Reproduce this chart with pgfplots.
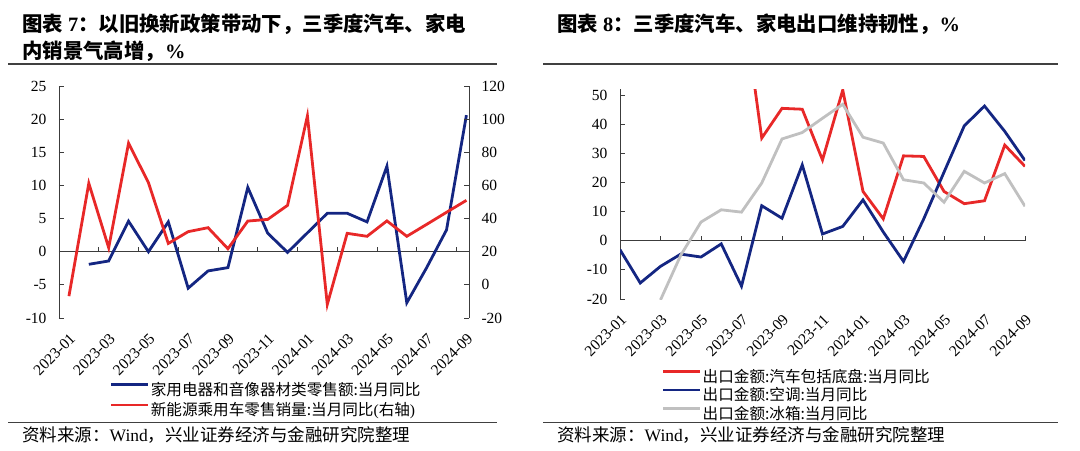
\documentclass[border=0pt]{standalone}
\usepackage{fontspec}
\setmainfont{Liberation Serif}
\newfontfamily\cjk{Noto Sans CJK SC}
\usepackage{pgfplots}
\pgfplotsset{compat=1.18}
\definecolor{cblue}{RGB}{20,38,130}
\definecolor{cred}{RGB}{232,40,40}
\definecolor{cgray}{RGB}{192,192,192}
\definecolor{axc}{RGB}{60,60,60}
\pgfplotsset{
  base/.style={
    scale only axis, anchor=south west,
    tick label style={font=\fontsize{15.5bp}{18bp}\selectfont},
    axis line style={draw=axc, line width=0.8bp, -},
    every tick/.style={draw=axc, line width=0.8bp},
    major tick length=5bp,
    ytick align=inside,
    yticklabel shift=9bp,
  },
  lg/.style={
    legend style={draw=none, fill=none, inner sep=0pt,
      font=\fontsize{15.6bp}{18bp}\selectfont,
      nodes={inner sep=1bp}},
    legend cell align=left,
    legend image code/.code={\draw[##1] (0bp,5bp) -- (37bp,5bp);},
  },
}
\begin{document}
\begin{tikzpicture}
\useasboundingbox (0,0) rectangle (1080bp,-451bp);
% ---------- titles and rules ----------
\node[anchor=west, inner sep=0pt, font=\fontsize{20.4bp}{24bp}\selectfont\bfseries] at (22bp,-24bp)
  {{\cjk 图表} 7{\cjk ：以旧换新政策带动下，三季度汽车、家电}};
\node[anchor=west, inner sep=0pt, font=\fontsize{20.4bp}{24bp}\selectfont\bfseries] at (22bp,-51bp)
  {{\cjk 内销景气高增，}\%};
\node[anchor=west, inner sep=0pt, font=\fontsize{20.4bp}{24bp}\selectfont\bfseries] at (557bp,-24bp)
  {{\cjk 图表} 8{\cjk ：三季度汽车、家电出口维持韧性，}\%};
\draw[line width=1.2bp, color=black!75] (8bp,-64bp) -- (497bp,-64bp);
\draw[line width=1.2bp, color=black!75] (543bp,-64bp) -- (1058bp,-64bp);
\draw[line width=1.2bp, color=black!75] (8bp,-422.5bp) -- (497bp,-422.5bp);
\draw[line width=1.2bp, color=black!75] (543bp,-422.5bp) -- (1058bp,-422.5bp);
\node[anchor=west, inner sep=0pt, font=\fontsize{17.5bp}{20bp}\selectfont] at (22bp,-435bp)
  {{\cjk 资料来源：}Wind{\cjk ，兴业证券经济与金融研究院整理}};
\node[anchor=west, inner sep=0pt, font=\fontsize{17.5bp}{20bp}\selectfont] at (557bp,-435bp)
  {{\cjk 资料来源：}Wind{\cjk ，兴业证券经济与金融研究院整理}};

% ---------- left chart: left axis + blue ----------
\begin{axis}[base, at={(59bp,-318bp)}, width=410bp, height=232bp,
  xmin=-0.5, xmax=20.13, ymin=-10, ymax=25,
  axis y line*=left, axis x line*=middle,
  ytick={-10,-5,0,5,10,15,20,25}, yticklabels={-10,-5,0,5,10,15,20,25},
  xtick={1.5,3.5,...,19.5}, xticklabels={,,,,,,,,,,,,}, xtick align=inside, major tick length=4.5bp]
\addplot[cblue, line width=2.8bp] coordinates {
 (1,-1.9) (2,-1.4) (3,4.6) (4,0.0) (5,4.5) (6,-5.5) (7,-2.9) (8,-2.4) (9,9.7)
 (10,2.8) (11,-0.1) (13,5.8) (14,5.8) (15,4.5) (16,12.9) (17,-7.7) (18,-2.4)
 (19,3.3) (20,20.6)};
\end{axis}
% ---------- left chart: right axis + red + labels ----------
\begin{axis}[base, lg, at={(59bp,-318bp)}, width=410bp, height=232bp,
  xmin=-0.5, xmax=20.13, ymin=-20, ymax=120,
  axis y line*=right, axis x line*=bottom, x axis line style={draw=none},
  ytick={-20,0,20,40,60,80,100,120}, yticklabels={-20,0,20,40,60,80,100,120},
  xtick={0,2,...,20},
  xticklabels={2023-01,2023-03,2023-05,2023-07,2023-09,2023-11,2024-01,2024-03,2024-05,2024-07,2024-09},
  xtick style={draw=none},
  xticklabel style={rotate=45, anchor=north east, inner sep=0pt},
  xticklabel shift=14bp,
  legend style={at={(0.124,-0.27)}, anchor=north west, row sep=4bp}]
\addlegendimage{cblue, line width=2.8bp}
\addlegendentry{\cjk 家用电器和音像器材类零售额:当月同比}
\addplot[cred, line width=2.8bp] coordinates {
 (0,-6.8) (1,61.3) (2,22.4) (3,85.5) (4,61.7) (5,25.0) (6,32.1) (7,34.5) (8,21.8)
 (9,38.5) (10,39.5) (11,48.0) (12,102.0) (13,-11.8) (14,31.1) (15,29.3) (16,38.6)
 (17,29.3) (18,36.5) (19,43.8) (20,51.0)};
\addlegendentry{{\cjk 新能源乘用车零售销量:当月同比}({\cjk 右轴})}
\end{axis}

% ---------- right chart: axes ----------
\begin{axis}[base, at={(620bp,-299bp)}, width=405bp, height=209.9bp,
  xmin=0, xmax=20, ymin=-20, ymax=52,
  axis y line*=left, axis x line*=middle,
  ytick={-20,-10,0,10,20,30,40,50}, yticklabels={-20,-10,0,10,20,30,40,50},
  xtick={0,2,...,20}, xticklabels={,,,,,,,,,,,,}, xtick align=inside, major tick length=4.5bp]
\end{axis}
% ---------- right chart: series + labels ----------
\begin{axis}[base, lg, at={(620bp,-299bp)}, width=405bp, height=209.9bp,
  xmin=0, xmax=20, ymin=-20, ymax=52,
  axis y line=none, axis x line*=bottom, x axis line style={draw=none},
  xtick={0,2,...,20},
  xticklabels={2023-01,2023-03,2023-05,2023-07,2023-09,2023-11,2024-01,2024-03,2024-05,2024-07,2024-09},
  xtick style={draw=none},
  xticklabel style={rotate=45, anchor=north east, inner sep=0pt},
  xticklabel shift=14bp,
  legend style={at={(0.103,-0.33)}, anchor=north west, row sep=1.5bp}]
\addplot[cred, line width=2.8bp] coordinates {
 (6,86) (7,35.2) (8,45.4) (9,45.1) (10,27.7) (11,51.7) (12,16.9) (13,7.5) (14,29.1)
 (15,28.9) (16,16.9) (17,12.7) (18,13.7) (19,32.8) (20,25.5)};
\addlegendentry{\cjk 出口金额:汽车包括底盘:当月同比}
\addplot[cblue, line width=2.8bp] coordinates {
 (0,-3.1) (1,-14.5) (2,-8.8) (3,-4.6) (4,-5.6) (5,-1.1) (6,-15.6) (7,12.0) (8,7.7)
 (9,26.0) (10,2.3) (11,4.9) (12,14.0) (13,3.0) (14,-7.1) (15,7.5) (16,23.5) (17,39.4)
 (18,46.2) (19,37.5) (20,27.5)};
\addlegendentry{\cjk 出口金额:空调:当月同比}
\addplot[cgray, line width=2.8bp] coordinates {
 (2,-20.3) (3,-5.0) (4,6.4) (5,10.6) (6,9.8) (7,19.8) (8,34.9) (9,37.1) (10,42.0)
 (11,46.8) (12,35.5) (13,33.5) (14,20.9) (15,19.8) (16,13.2) (17,23.8) (18,19.8)
 (19,23.0) (20,11.8)};
\addlegendentry{\cjk 出口金额:冰箱:当月同比}
\end{axis}
\end{tikzpicture}
\end{document}
